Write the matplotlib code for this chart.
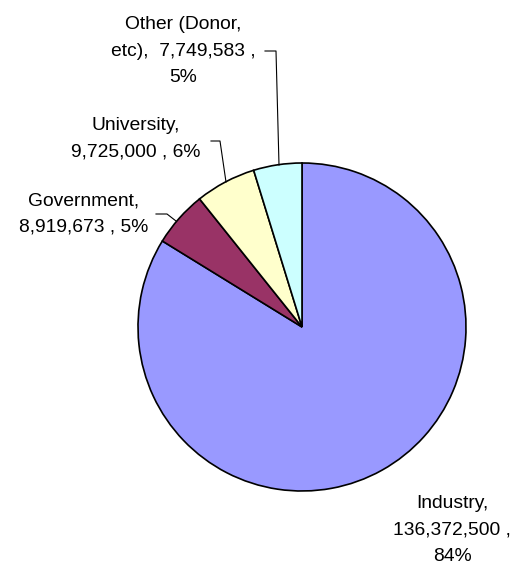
import matplotlib.pyplot as plt

plt.rcParams['font.family'] = ['Liberation Sans', 'DejaVu Sans']

categories = ['Industry', 'Government', 'University', 'Other (Donor, etc)']
values = [136372500, 8919673, 9725000, 7749583]
colors = ['#9999FF', '#993366', '#FFFFCC', '#CCFFFF']

total = sum(values)
pcts = [round(v * 100 / total) for v in values]

labels = [
    f"Industry,\n{values[0]:,} ,\n{pcts[0]}%",
    f"Government,\n{values[1]:,} , {pcts[1]}%",
    f"University,\n{values[2]:,} , {pcts[2]}%",
    f"Other (Donor,\netc),  {values[3]:,} ,\n{pcts[3]}%",
]

H = 569
fig = plt.figure(figsize=(5.2, 5.69), dpi=100)
ax = fig.add_axes([0, 0, 1, 1])

ax.pie(values, colors=colors, startangle=90, counterclock=False,
       center=(302, H - 327), radius=164,
       wedgeprops=dict(edgecolor='black', linewidth=1.2))

# label positions (pixels from top-left) and leader lines
label_pos = [(452, 530), (84, 214), (136, 139), (183, 51)]
leaders = [
    None,
    [(156, 214), (167, 214), (176, 221)],
    [(211, 141), (220, 141), (226, 182)],
    [(265, 51), (276, 51), (279, 165)],
]

for lab, (x, y), ld in zip(labels, label_pos, leaders):
    ax.text(x, H - y, lab, ha='center', va='center', fontsize=13.9,
            linespacing=1.72, color='black')
    if ld:
        ax.plot([p[0] for p in ld], [H - p[1] for p in ld],
                color='black', linewidth=0.8)

ax.set_xlim(0, 520)
ax.set_ylim(0, H)
ax.set_aspect('equal')
ax.axis('off')

fig.savefig('out.png', dpi=100, facecolor='white')
